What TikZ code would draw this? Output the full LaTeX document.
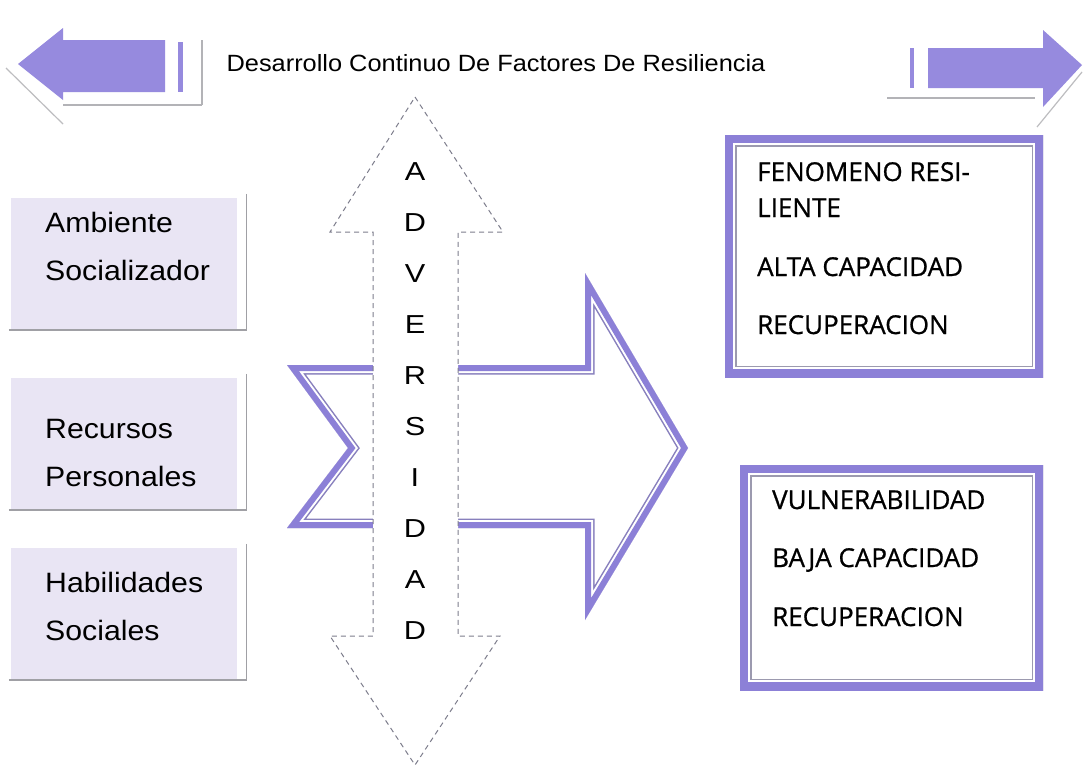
\documentclass[tikz,border=0pt]{standalone}
\usepackage{fontspec}
\setmainfont{Liberation Sans}
\newfontfamily\arialw[FakeStretch=1.08]{Liberation Sans}
\newfontfamily\arialv[FakeStretch=1.18]{Liberation Sans}
\newfontfamily\rtfont[FakeBold=0.8]{Open Sans}
\usetikzlibrary{calc}
\definecolor{arrowpurple}{RGB}{150,138,222}
\definecolor{bandpurple}{RGB}{140,128,215}
\definecolor{lavender}{RGB}{233,229,244}
\definecolor{shadowgray}{RGB}{160,160,165}
\definecolor{dashgray}{RGB}{125,125,140}
\tikzset{
  titletext/.style={font=\arialw\fontsize{23.5}{27}\selectfont, inner sep=0pt},
  lefttext/.style={font=\arialw\fontsize{28}{48}\selectfont, align=left, inner sep=0pt, anchor=west},
  lettertext/.style={font=\arialv\fontsize{26}{28}\selectfont, inner sep=0pt},
  righttext/.style={font=\rtfont\fontsize{26}{30}\selectfont, inner sep=0pt, anchor=base west},
  lbox/.style={fill=lavender, draw=none, inner sep=0pt},
  adv/.style={draw=dashgray, fill=white, line width=1pt, dash pattern=on 5pt off 4pt},
  grayline/.style={draw=shadowgray, line width=1.2pt},
}
\begin{document}
\begin{tikzpicture}[x=1pt,y=-1pt]
\useasboundingbox (0,0) rectangle (1086,769);
\fill[white] (0,0) rectangle (1086,769);

% ---- top left arrow ----
\draw[grayline, draw=shadowgray!70] (6,68) -- (63,124);
\draw[grayline, draw=shadowgray!80] (63,105) -- (202,105);
\draw[grayline, draw=shadowgray!80] (202,40) -- (202,105);
\fill[arrowpurple] (18,64) -- (63,28) -- (63,40) -- (165,40) -- (165,92) -- (63,92) -- (63,100) -- cycle;
\fill[arrowpurple] (178,42) rectangle (183,92);

% ---- top right arrow ----
\draw[grayline, draw=shadowgray!80] (887,98) -- (1035,98);
\draw[grayline, draw=shadowgray!70] (1082,72) -- (1037,127);
\fill[arrowpurple] (928,48) -- (1043,48) -- (1043,30) -- (1082,65) -- (1043,107) -- (1043,88) -- (928,88) -- cycle;
\fill[arrowpurple] (910,48) rectangle (914,88);

% ---- title ----
\node[titletext] (title) at (496,63) {Desarrollo Continuo De Factores De Resiliencia};

% ---- left boxes ----
\node[lbox, minimum width=226pt, minimum height=132pt] (box1) at (124,264) {};
\node[lbox, minimum width=226pt, minimum height=132pt] (box2) at (124,444) {};
\node[lbox, minimum width=226pt, minimum height=132pt] (box3) at (124,614) {};
\foreach \b in {box1,box2,box3}{
  \draw[draw=shadowgray, line width=2.5pt] ($(\b.south west)+(-2,0)$) -- ($(\b.south east)+(10,0)$);
  \draw[draw=shadowgray, line width=1.2pt] ($(\b.north east)+(9,-4)$) -- ($(\b.south east)+(9,0)$);
}
\node[lefttext] (t1) at (45,246) {Ambiente\\Socializador};
\node[lefttext] (t2) at (45,453) {Recursos\\Personales};
\node[lefttext] (t3) at (45,606) {Habilidades\\Sociales};

% ---- big chevron arrow ----
\def\chev{(287,365) -- (585,365) -- (585,273) -- (688,448) -- (585,620) -- (585,528) -- (287,528) -- (348,448) -- cycle}
\begin{scope}
  \clip \chev;
  \draw[bandpurple!70!gray, line width=19pt, line join=miter] \chev;
  \draw[white, line width=16pt, line join=miter] \chev;
  \draw[bandpurple, line width=12pt, line join=miter] \chev;
\end{scope}

% ---- adversidad double arrow ----
\path[adv] (415,97) -- (503,232) -- (458,232) -- (458,636) -- (500,636) -- (415,765)
  -- (330,636) -- (373,636) -- (373,232) -- (330,232) -- cycle;
\foreach \ch [count=\i from 0] in {A,D,V,E,R,S,I,D,A,D}{
  \node[lettertext] (L\i) at (415,{172+51*\i}) {\ch};
}

% ---- right boxes ----
\def\rboxA{(725,135) rectangle (1043,377)}
\def\rboxB{(740,465) rectangle (1043,690)}
\foreach \r in {\rboxA,\rboxB}{
  \begin{scope}
    \clip \r;
    \draw[shadowgray!80!bandpurple, line width=23pt] \r;
    \draw[white, line width=20pt] \r;
    \draw[bandpurple, line width=16pt] \r;
  \end{scope}
}
\node[righttext] (r1) at (757,181) {FENOMENO RESI-};
\node[righttext] (r2) at (757,217) {LIENTE};
\node[righttext] (r3) at (757,276) {ALTA CAPACIDAD};
\node[righttext] (r4) at (757,334) {RECUPERACION};
\node[righttext] (r5) at (772,509) {VULNERABILIDAD};
\node[righttext] (r6) at (772,567) {BAJA CAPACIDAD};
\node[righttext] (r7) at (772,626) {RECUPERACION};
\end{tikzpicture}
\end{document}
